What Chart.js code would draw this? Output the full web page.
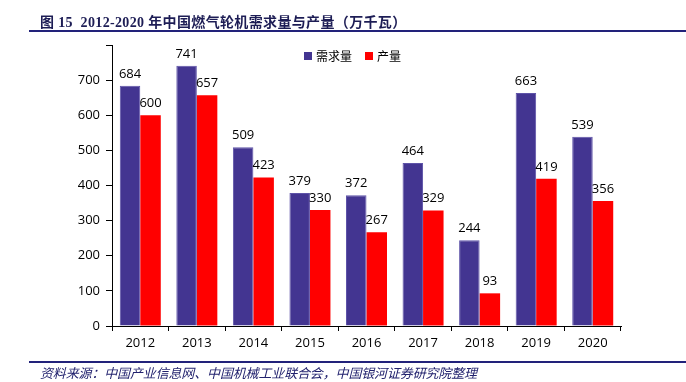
<!DOCTYPE html>
<html>
<head>
<meta charset="utf-8">
<script src="https://cdn.jsdelivr.net/npm/chart.js@4/dist/chart.umd.min.js"></script>
<style>
  html, body { margin: 0; padding: 0; background: #fff; }
  #wrap { position: relative; width: 686px; height: 382px; overflow: hidden; }
  #c { position: absolute; left: 0; top: 0; }
  #title { position: absolute; left: 40px; top: 11px; font: bold 14px "Liberation Serif", "Noto Sans CJK SC", serif; letter-spacing: 0.35px; color: #1d1d55; white-space: pre; }
  #tline { position: absolute; left: 29px; top: 30px; width: 657px; height: 2px; background: #22227a; }
  #fline { position: absolute; left: 29px; top: 361px; width: 657px; height: 2px; background: #22227a; }
  #foot { position: absolute; left: 40px; top: 363px; font: italic 13px "Noto Sans CJK SC", sans-serif; letter-spacing: -0.15px; color: #22226e; white-space: pre; }
</style>
</head>
<body>
<div id="wrap">
  <canvas id="c" width="686" height="382"></canvas>
  <div id="title">图 15  2012-2020 年中国燃气轮机需求量与产量（万千瓦）</div>
  <div id="tline"></div>
  <div id="fline"></div>
  <div id="foot">资料来源：中国产业信息网、中国机械工业联合会，中国银河证券研究院整理</div>
</div>
<script>
const years = ['2012','2013','2014','2015','2016','2017','2018','2019','2020'];
const demand = [684, 741, 509, 379, 372, 464, 244, 663, 539];
const production = [600, 657, 423, 330, 267, 329, 93, 419, 356];
const seriesNames = ['需求量', '产量'];

const valueLabels = {
  id: 'valueLabels',
  afterDatasetsDraw(chart) {
    const ctx = chart.ctx;
    ctx.save();
    ctx.font = '13px "Open Sans", sans-serif';
    ctx.fillStyle = '#000';
    ctx.textAlign = 'center';
    ctx.textBaseline = 'alphabetic';
    chart.data.datasets.forEach((ds, i) => {
      const meta = chart.getDatasetMeta(i);
      meta.data.forEach((el, j) => {
        ctx.fillText(String(ds.data[j]), el.x, el.y - 8);
      });
    });
    ctx.restore();
  }
};

const customLegend = {
  id: 'customLegend',
  afterDraw(chart) {
    const ctx = chart.ctx;
    ctx.save();
    ctx.font = '12px "Noto Sans CJK SC", sans-serif';
    ctx.textBaseline = 'middle';
    ctx.textAlign = 'left';
    let x = 304;
    const y = 56;
    chart.data.datasets.forEach(ds => {
      ctx.fillStyle = ds.backgroundColor;
      ctx.fillRect(x, y - 4, 8, 8);
      ctx.fillStyle = '#000';
      ctx.fillText(ds.label, x + 12, y);
      x += 12 + ctx.measureText(ds.label).width + 13;
    });
    ctx.restore();
  }
};

new Chart(document.getElementById('c'), {
  type: 'bar',
  data: {
    labels: years,
    datasets: [
      { label: seriesNames[0], data: demand, backgroundColor: '#433591', borderColor: '#5e53a8', borderWidth: 1, borderSkipped: 'bottom' },
      { label: seriesNames[1], data: production, backgroundColor: '#FF0000', borderWidth: 0 }
    ]
  },
  options: {
    responsive: false,
    animation: false,
    devicePixelRatio: 1,
    layout: { padding: { left: 0, right: 65, top: 45, bottom: 26 } },
    datasets: { bar: { categoryPercentage: 0.725, barPercentage: 1 } },
    plugins: { legend: { display: false }, tooltip: { enabled: false }, title: { display: false } },
    scales: {
      x: {
        grid: { display: true, drawOnChartArea: false, drawTicks: true, tickLength: 5, color: '#000', offset: true },
        border: { display: true, color: '#000', width: 1 },
        ticks: { color: '#000', font: { family: '"Open Sans", sans-serif', size: 13 }, padding: 4, maxRotation: 0 },
        afterFit(s) { s.height = 30; }
      },
      y: {
        min: 0, max: 800,
        grid: { display: true, drawOnChartArea: false, drawTicks: true, tickLength: 6, color: '#000' },
        border: { display: true, color: '#000', width: 1 },
        ticks: {
          stepSize: 100, color: '#000', padding: 6,
          font: { family: '"Open Sans", sans-serif', size: 13 },
          callback: v => (v === 800 ? '' : v)
        },
        afterFit(s) { s.width = 112; }
      }
    }
  },
  plugins: [valueLabels, customLegend]
});
</script>
</body>
</html>
